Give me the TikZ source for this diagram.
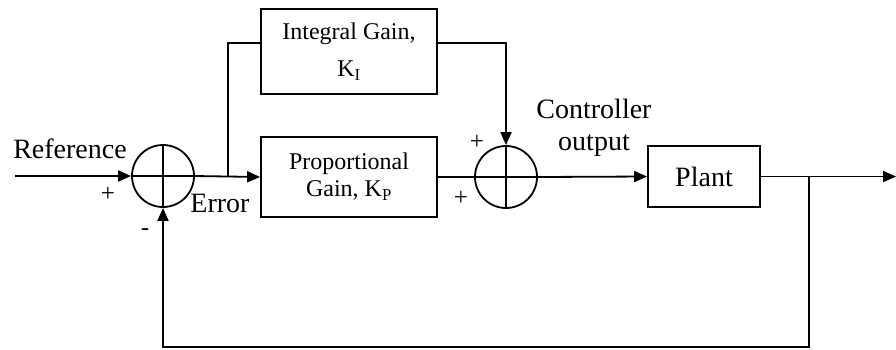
\documentclass[tikz,border=0pt]{standalone}
\usepackage{fontspec}
\setmainfont{Liberation Serif}
\usetikzlibrary{arrows.meta}
\begin{document}
\begin{tikzpicture}[x=1pt,y=1pt, line width=1.8pt,
  blk/.style={draw, line width=1.8pt, inner sep=0pt, align=center},
  sumc/.style={draw, circle, minimum size=62pt, inner sep=0pt,
    path picture={\draw[line width=1.8pt] (path picture bounding box.north) -- (path picture bounding box.south)
      (path picture bounding box.west) -- (path picture bounding box.east);}},
  arr/.style={-{Triangle[length=13pt,width=11pt]}},
  lbl/.style={inner sep=0pt, font=\fontsize{28}{30}\selectfont},
  sgn/.style={inner sep=0pt, font=\fontsize{25}{26}\selectfont}]
\useasboundingbox (0,0) rectangle (896,-349);

% blocks
\node[sumc] (s1) at (163,-176) {};
\node[sumc] (s2) at (506,-177) {};
\node[blk, minimum width=176pt, minimum height=85pt, font=\fontsize{24}{37}\selectfont] (int) at (349,-51.5) {Integral Gain,\\K\textsubscript{I}};
\node[blk, minimum width=176pt, minimum height=80pt, font=\fontsize{24}{27}\selectfont] (prop) at (349,-177) {Proportional\\Gain, K\textsubscript{P}};
\node[blk, minimum width=112pt, minimum height=61pt, font=\fontsize{28}{30}\selectfont] (plant) at (704,-176.5) {Plant};

% coordinates
\coordinate (in) at (15,-176);
\coordinate (br) at (228,-176);
\coordinate (iy) at (0,-43);
\coordinate (tap) at (809,-176.5);
\coordinate (out) at (896,-176.5);
\coordinate (bot) at (0,-347);

% connectors
\draw[arr] (in) -- (s1.west);
\draw[arr] (s1.east) -- (prop.west);
\draw (br) |- (int.west |- iy);
\draw[arr] (int.east |- iy) -| (s2.north);
\draw (prop.east) -- (s2.west);
\draw[arr] (s2.east) -- (plant.west);
\draw[arr] (plant.east) -- (out);
\draw[arr] (tap) |- (s1 |- bot) -- (s1.south);

% labels
\node[lbl, anchor=base] (tref) at (70,-158) {Reference};
\node[lbl, anchor=base] (terr) at (220,-212) {Error};
\node[lbl, anchor=base] (tco1) at (594,-118) {Controller};
\node[lbl, anchor=base] (tco2) at (594,-150) {output};
\node[sgn] (p1) at (108,-194) {+};
\node[sgn] (m1) at (145,-232) {-};
\node[sgn] (p2) at (477,-142) {+};
\node[sgn] (p3) at (461,-198) {+};
\end{tikzpicture}
\end{document}
